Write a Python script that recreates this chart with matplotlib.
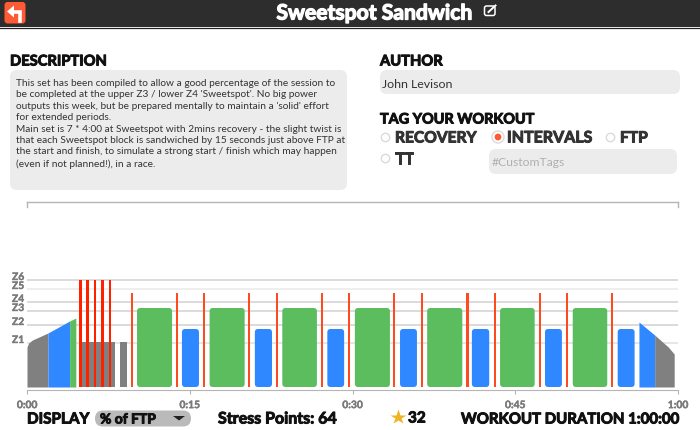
import matplotlib
matplotlib.use('Agg')
import matplotlib.pyplot as plt
import matplotlib.patheffects as pe
from matplotlib.patches import FancyBboxPatch, Circle, Polygon

# chart values: minutes on x, power level on y
zone_labels = ['Z1', 'Z2', 'Z3', 'Z4', 'Z5', 'Z6']
zone_levels = [44, 62, 76, 85, 98, 107]
time_ticks = [0, 15, 30, 45, 60]
time_labels = ['0:00', '0:15', '0:30', '0:45', '1:00']

warm_x = [0.0, 0.15, 0.5, 1.93]
warm_y = [40, 44, 47, 54]
warm_blue_x = [1.93, 3.93]
warm_blue_y = [54, 66]
warm_green_x = [3.93, 4.5]
warm_green_y = [66, 69]

gray_starts = [4.9, 8.57]
gray_ends = [8.1, 9.2]
gray_level = 45

red_times = [4.91, 5.6, 6.27, 6.93, 7.65]
red_level = 107

spike_times = [9.68, 13.83, 16.35, 20.49, 23.05, 27.2, 29.7, 33.85, 36.4, 40.6,
               43.1, 47.25, 49.8, 53.95]
spike_level = 94

green_starts = [10.14, 16.83, 23.53, 30.22, 36.88, 43.6, 50.3]
green_ends = [13.37, 20.06, 26.72, 33.45, 40.12, 46.79, 53.48]
green_level = 79

blue_starts = [14.28, 21.0, 27.68, 34.38, 41.0, 47.74, 54.44]
blue_ends = [15.85, 22.58, 29.23, 35.94, 42.6, 49.3, 56.0]
blue_level = 58

cool_blue_x = [56.4, 57.85]
cool_blue_y = [65, 52]
cool_gray_x = [57.85, 59.1, 59.65]
cool_gray_y = [52, 40, 33]

description = ("This set has been compiled to allow a good percentage of the session to\n"
               "be completed at the upper Z3 / lower Z4 'Sweetspot'. No big power\n"
               "outputs this week, but be prepared mentally to maintain a 'solid' effort\n"
               "for extended periods.\n"
               "Main set is 7 * 4:00 at Sweetspot with 2mins recovery - the slight twist is\n"
               "that each Sweetspot block is sandwiched by 15 seconds just above FTP at\n"
               "the start and finish, to simulate a strong start / finish which may happen\n"
               "(even if not planned!), in a race.")

GREEN = '#5bbd5e'
BLUE = '#2f88ff'
GRAY = '#808080'
ORANGE = '#ff4a1f'
RED = '#ff2000'


def heavy(color='#111111', stroke=0.7):
    # Lato has no real black weight here, so thicken the bold with a stroke
    return {'family': 'Lato', 'weight': 'bold', 'color': color,
            'path_effects': [pe.withStroke(linewidth=stroke, foreground=color)]}


fig = plt.figure(figsize=(7, 4.31), dpi=100, facecolor='white')

# page furniture, in pixels
ui = fig.add_axes([0, 0, 1, 1])
ui.set_xlim(0, 700)
ui.set_ylim(431, 0)
ui.axis('off')


def box(x0, y0, x1, y1, r, color, edge='none', lw=0.8):
    ui.add_patch(FancyBboxPatch((x0 + r, y0 + r), x1 - x0 - 2 * r, y1 - y0 - 2 * r,
                                boxstyle='round,pad=%g,rounding_size=%g' % (r, r),
                                fc=color, ec=edge, lw=lw))


def radio(x, y, selected=False):
    ui.add_patch(Circle((x, y), 4.2 if not selected else 6, fc='white', ec='#dadada', lw=1))
    if selected:
        ui.add_patch(Circle((x, y), 3.4, fc='#ff5a36', ec='none'))


# header
ui.fill_between([0, 700], 0, 27.5, color='#2d2d2d', lw=0)
ui.plot([0, 700], [29, 29], color='#222222', lw=0.9)
box(4.5, 3, 25.5, 24.5, 3, '#ff5a36')
ui.plot([20, 20, 12], [21.5, 12.5, 12.5], color='white', lw=2.6, solid_joinstyle='miter')
ui.add_patch(Polygon([[7, 12.5], [14, 6.5], [14, 18.5]], fc='white', ec='none'))
ui.text(374.5, 14.5, 'Sweetspot Sandwich', ha='center', va='center', fontsize=15.2,
        **heavy('white', 0.9))
box(484.5, 7, 495, 16.5, 2, '#2d2d2d', edge='white', lw=1.1)
ui.plot([488.5, 495.5], [13, 6.5], color='white', lw=1.4)

# description column
ui.text(10, 62.5, 'DESCRIPTION', va='center', fontsize=10.6, **heavy())
box(10, 71, 347, 191, 7, '#ececec')
ui.text(16, 79, description, va='top', fontsize=7.25, family='Lato', color='#333333',
        linespacing=1.345)

# author and tags
ui.text(380, 62.5, 'AUTHOR', va='center', fontsize=10.6, **heavy())
box(380, 71, 680, 95, 7, '#ececec')
ui.text(382, 84, 'John Levison', va='center', fontsize=8.9, family='Lato', color='#333333')
ui.text(380, 120.5, 'TAG YOUR WORKOUT', va='center', fontsize=10.4, **heavy())
radio(385.5, 138.5)
ui.text(395, 139.5, 'RECOVERY', va='center', fontsize=11.2, **heavy('#333333'))
radio(498, 138, selected=True)
ui.text(507, 139.5, 'INTERVALS', va='center', fontsize=11.5, **heavy('#333333'))
radio(610.5, 138.5)
ui.text(620, 139.5, 'FTP', va='center', fontsize=11.2, **heavy('#333333'))
radio(385.5, 159.5)
ui.text(395, 160.5, 'TT', va='center', fontsize=11.2, **heavy('#333333'))
box(489, 150, 677, 175, 7, '#ececec')
ui.text(492, 163, '#CustomTags', va='center', fontsize=8.7, family='Lato', color='#b0b0b0')

# chart frame above the workout
ui.plot([27, 678], [203, 203], color='#b5b5b5', lw=1)
ui.plot([27, 27], [203, 208], color='#b5b5b5', lw=1)
ui.plot([678, 678], [203, 208], color='#b5b5b5', lw=1)

# bottom strip
ui.text(27, 420.5, 'DISPLAY', va='center', fontsize=11, **heavy())
box(95, 411.5, 191, 427.5, 8, '#bababa')
ui.text(100, 420.5, '% of FTP', va='center', fontsize=10, **heavy())
ui.add_patch(Polygon([[173, 417], [185, 417], [179, 421.5]], fc='#222222', ec='none'))
ui.text(218, 420.5, 'Stress Points: 64', va='center', fontsize=11.5, **heavy())
ui.plot([398], [418], marker='*', ms=11.5, color='#f0b323', mec='none')
ui.text(408, 419.5, '32', va='center', fontsize=11, **heavy())
ui.text(461, 420.5, 'WORKOUT DURATION 1:00:00', va='center', fontsize=10.8, **heavy())

# workout chart: 1 minute = 10.85 px, 1 level = 1 px
ax = fig.add_axes([27 / 700, (431 - 391) / 431, 651 / 700, 133 / 431])
ax.patch.set_alpha(0)
ax.set_xlim(0, 60)
ax.set_ylim(-3, 130)
for s in ['top', 'left', 'right']:
    ax.spines[s].set_visible(False)
ax.spines['bottom'].set_color('#b5b5b5')
ax.set_xticks(time_ticks)
ax.set_xticklabels(time_labels, fontsize=7.4, **heavy('#7a7a7a', 0.3))
ax.tick_params(axis='x', length=3, width=0.8, color='#b5b5b5', pad=5)
ax.set_yticks(zone_levels)
ax.set_yticklabels(zone_labels, fontsize=7.4, va='baseline', **heavy('#7a7a7a', 0.3))
ax.tick_params(axis='y', length=0, pad=2)
ax.grid(axis='y', color='#d4d4d4', lw=1.2)
ax.get_ygridlines()[0].set_color('#e2e2e2')
ax.get_ygridlines()[4].set_color('#ebebeb')
ax.set_axisbelow(True)


def block(t0, t1, level, color):
    ax.add_patch(FancyBboxPatch((t0 + 0.3, 3.25), t1 - t0 - 0.6, level - 6.5,
                                boxstyle='round,pad=0.3,rounding_size=0.3',
                                mutation_aspect=10.85, fc=color, ec='none', zorder=2))


ax.fill_between(warm_x, 0, warm_y, color=GRAY, lw=0, zorder=2)
ax.fill_between(warm_blue_x, 0, warm_blue_y, color=BLUE, lw=0, zorder=2)
ax.fill_between(warm_green_x, 0, warm_green_y, color=GREEN, lw=0, zorder=2)
ax.fill_between(cool_blue_x, 0, cool_blue_y, color=BLUE, lw=0, zorder=2)
ax.fill_between(cool_gray_x, 0, cool_gray_y, color=GRAY, lw=0, zorder=2)

for t0, t1 in zip(gray_starts, gray_ends):
    ax.bar(t0, gray_level, t1 - t0, align='edge', color=GRAY, zorder=2)
for t0, t1 in zip(green_starts, green_ends):
    block(t0, t1, green_level, GREEN)
for t0, t1 in zip(blue_starts, blue_ends):
    block(t0, t1, blue_level, BLUE)
ax.bar(red_times, red_level, 0.26, color=RED, zorder=3)
ax.bar(spike_times, spike_level, 0.2, color=ORANGE, zorder=3)

fig.savefig('out.png', dpi=100)
